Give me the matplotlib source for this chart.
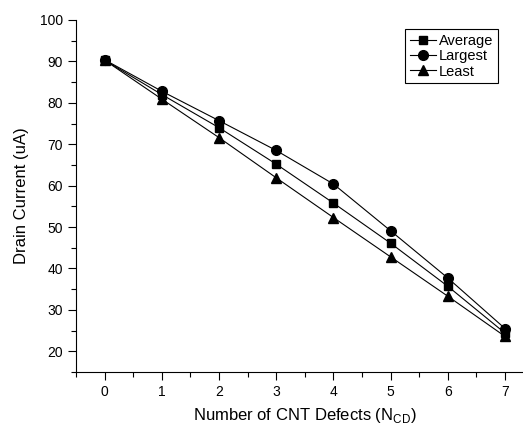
import matplotlib
matplotlib.use("Agg")
import matplotlib.pyplot as plt
from matplotlib.ticker import MultipleLocator

plt.rcParams['font.family'] = ['Liberation Sans', 'DejaVu Sans']

n_defects = [0, 1, 2, 3, 4, 5, 6, 7]
average = [90.3, 82.0, 74.0, 65.2, 55.8, 46.1, 35.7, 24.4]
largest = [90.4, 82.8, 75.7, 68.5, 60.4, 49.1, 37.7, 25.5]
least = [90.3, 80.9, 71.6, 61.9, 52.3, 42.8, 33.3, 23.6]

fig = plt.figure(figsize=(5.23, 4.26), dpi=100)
# axes extends slightly past the right edge, like the cropped original
ax = fig.add_axes([76 / 523, 1 - 372 / 426, 457.6 / 523, (372 - 20) / 426])

ax.plot(n_defects, average, '-s', color='black', lw=0.8, ms=6, label='Average')
ax.plot(n_defects, largest, '-o', color='black', lw=0.8, ms=7, label='Largest')
ax.plot(n_defects, least, '-^', color='black', lw=0.8, ms=7, label='Least')

ax.set_xlim(-0.5, 7.5)
ax.set_ylim(15, 100)
ax.set_xticks(n_defects)
ax.set_yticks(range(20, 101, 10))
ax.xaxis.set_minor_locator(MultipleLocator(0.5))
ax.yaxis.set_minor_locator(MultipleLocator(5))
ax.tick_params(which='major', direction='out', length=6, width=0.8, labelsize=10)
ax.tick_params(which='minor', direction='out', length=3.5, width=0.8)

for side in ('top', 'right'):
    ax.spines[side].set_visible(False)
for side in ('left', 'bottom'):
    ax.spines[side].set_linewidth(0.8)

ax.set_xlabel('Number of CNT Defects (N$_{\\mathregular{CD}}$)', fontsize=12, labelpad=5)
ax.set_ylabel('Drain Current (uA)', fontsize=12, labelpad=8)

leg = ax.legend(loc='upper right', bbox_to_anchor=(505 / 523, 1 - 22 / 426),
                bbox_transform=fig.transFigure, fontsize=10.5, handlelength=1.8,
                handletextpad=0.2, labelspacing=0.1, borderpad=0.3,
                fancybox=False, edgecolor='black', framealpha=1)
leg.get_frame().set_linewidth(0.8)

fig.savefig('out.png', dpi=100)
